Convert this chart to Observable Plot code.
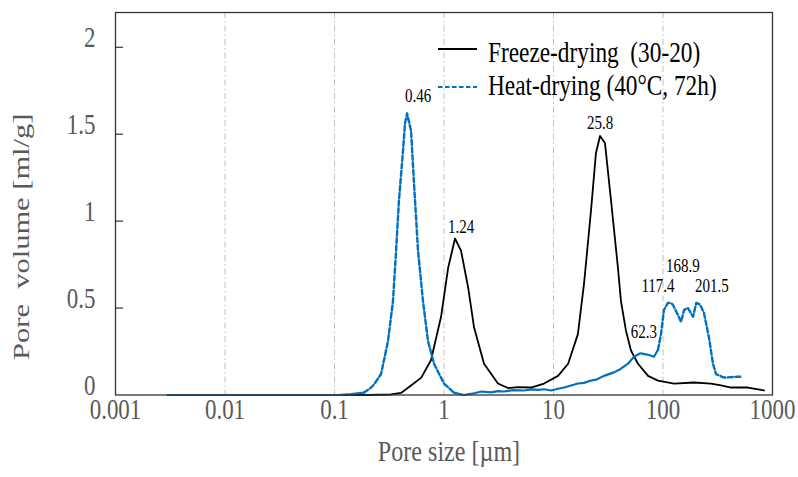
<!DOCTYPE html>
<html><head><meta charset="utf-8">
<script src="https://cdn.jsdelivr.net/npm/d3@7"></script>
<script src="https://cdn.jsdelivr.net/npm/@observablehq/plot@0.6"></script>
<style>
body{margin:0;background:#fff}
#chart{width:798px;height:477px}
svg text{white-space:pre}
</style>
</head><body><div id="chart"></div>
<script>
// ---- data ----
const freezeX = [0.003,0.1,0.2,0.328,0.405,0.5,0.62,0.76,0.94,1.09,1.26,1.43,1.66,1.88,2.32,3.11,3.84,4.74,6.23,8.19,11.0,13.6,16.7,19.0,22.0,24.4,26.6,29.5,33.5,38.8,41.3,45.9,51.0,59.1,73.0,90.0,126,192,274,339,418,598,836];
const freezeY = [0,0,0,0.003,0.012,0.055,0.10,0.20,0.45,0.73,0.90,0.83,0.62,0.39,0.18,0.066,0.04,0.045,0.043,0.066,0.11,0.18,0.35,0.64,1.06,1.39,1.49,1.45,1.12,0.73,0.54,0.37,0.256,0.18,0.11,0.083,0.066,0.072,0.066,0.055,0.043,0.043,0.026];
const heatX = [0.003,0.108,0.142,0.186,0.216,0.229,0.266,0.283,0.308,0.342,0.365,0.388,0.423,0.44,0.46,0.50,0.532,0.579,0.643,0.714,0.811,1.0,1.23,1.52,1.88,2.2,2.69,3.1,3.53,4.3,5.38,6.2,7.21,8.3,9.49,11,12.5,14.5,16.7,19,22.0,25,28.9,35.7,41,47.9,54.3,62.3,68,74.5,82.7,90.0,95.9,102,111,117.4,123,137,146,156,168.9,188,201.5,218,237,263,286,305,361,484,515];
const heatY = [0,0,0.005,0.014,0.043,0.06,0.12,0.2,0.31,0.54,0.83,1.12,1.41,1.56,1.62,1.52,1.22,0.83,0.54,0.31,0.18,0.066,0.014,0.0,0.01,0.02,0.015,0.022,0.02,0.028,0.026,0.032,0.03,0.033,0.026,0.036,0.043,0.055,0.066,0.07,0.083,0.09,0.11,0.13,0.15,0.18,0.22,0.24,0.235,0.23,0.22,0.26,0.35,0.49,0.53,0.53,0.52,0.46,0.42,0.49,0.50,0.45,0.53,0.52,0.47,0.33,0.18,0.12,0.10,0.105,0.105];
const seriesNames = ["Freeze-drying  (30-20)", "Heat-drying (40°C, 72h)"];
const xTicks = [0.001, 0.01, 0.1, 1, 10, 100, 1000];
const gridX = [0.01, 0.1, 1, 10, 100];
const yTicks = [0, 0.5, 1, 1.5, 2];
const peakText = ["0.46", "1.24", "25.8", "62.3", "117.4", "168.9", "201.5"];
const peakLabelX = [0.579, 1.43, 26.6, 67, 90, 152, 280];
const peakLabelY = [1.683, 0.929, 1.528, 0.325, 0.590, 0.705, 0.590];
const xTitle = "Pore size [µm]";
const yTitle = "Pore  volume [ml/g]";

// ---- build tables ----
const freeze = freezeX.map((x, i) => ({x, y: freezeY[i]}));
const heat = heatX.map((x, i) => ({x, y: heatY[i]}));
const isDashed = x => (x >= 0.18 && x <= 1.3) || x >= 90;
// split the heat-drying series into solid / dashed runs (shared end points)
const runs = [];
let cur = null;
heat.forEach((p, i) => {
  const d = i === 0 ? isDashed(p.x) : isDashed((heat[i - 1].x + p.x) / 2);
  if (!cur || cur.dashed !== d) {
    const prev = cur ? cur.pts[cur.pts.length - 1] : null;
    cur = {dashed: d, pts: prev ? [prev] : []};
    runs.push(cur);
  }
  cur.pts.push(p);
});
const heatSolid = [], heatDash = [];
runs.forEach((r, k) => r.pts.forEach(p => (r.dashed ? heatDash : heatSolid).push({...p, run: k})));
const peaks = peakText.map((t, i) => ({t, x: peakLabelX[i], y: peakLabelY[i]}));

const BLUE = "#0070c0";
const GRAY = "#595959";

const chart = Plot.plot({
  width: 798, height: 477,
  marginLeft: 115, marginRight: 26, marginTop: 12, marginBottom: 82.5,
  style: {fontFamily: "'Liberation Serif', 'Times New Roman', serif", fontSize: "29px", color: GRAY, background: "#fff"},
  x: {type: "log", domain: [0.001, 1000]},
  y: {domain: [0, 2.2]},
  marks: [
    Plot.ruleX(gridX, {x: d => d, stroke: "#bfbfbf", strokeWidth: 1, strokeDasharray: "6,3,1.5,3"}),
    Plot.line(freeze, {x: "x", y: "y", stroke: "#000", strokeWidth: 1.8}),
    Plot.line(heatSolid, {x: "x", y: "y", z: "run", stroke: BLUE, strokeWidth: 2.2}),
    Plot.line(heatDash, {x: "x", y: "y", z: "run", stroke: BLUE, strokeWidth: 2.4, strokeDasharray: "5,2.5"}),
    Plot.frame({stroke: "#333", strokeWidth: 1.3}),
    Plot.tickY(yTicks.slice(1), {y: d => d, stroke: "#333", strokeWidth: 1.2, insetRight: 649}),
    Plot.axisX(xTicks, {tickSize: 0, tickPadding: 24, tickFormat: d => String(d), label: null, fontSize: 29}),
    Plot.axisY(yTicks, {tickSize: 0, tickPadding: 20, tickFormat: d => String(d), label: null, fontSize: 29}),
    Plot.text(peaks, {x: "x", y: "y", text: "t", lineAnchor: "bottom", textAnchor: "middle", fill: "#000", fontSize: 19}),
    Plot.text([xTitle], {text: d => d, frameAnchor: "bottom", dy: 66, dx: 5, textAnchor: "middle", lineAnchor: "middle", fontSize: 30.5, fill: GRAY}),
    Plot.text([yTitle], {text: d => d, frameAnchor: "left", rotate: -90, dx: -87, dy: 33, textAnchor: "middle", lineAnchor: "middle", fontSize: 30.5, fill: GRAY})
  ]
});

// ---- legend (inside the plot frame, top right) ----
const svg = d3.select(chart);
const leg = svg.append("g").attr("text-anchor", "start");
const rows = [
  {name: seriesNames[0], stroke: "#000", dash: null, w: 1.8, ly: 49, ty: 53},
  {name: seriesNames[1], stroke: BLUE, dash: "4.5,2.5", w: 2.2, ly: 87, ty: 86}
];
rows.forEach(r => {
  leg.append("line").attr("x1", 438).attr("x2", 477).attr("y1", r.ly).attr("y2", r.ly)
    .attr("stroke", r.stroke).attr("stroke-width", r.w).attr("stroke-dasharray", r.dash);
  leg.append("text").attr("x", 488).attr("y", r.ty).attr("dy", "0.32em").attr("text-anchor", "start")
    .attr("fill", "#000").attr("font-size", 29.5).text(r.name);
});

// the reference's lettering is horizontally condensed: compress all text in screen-x
const S = 0.79;
svg.selectAll("text").each(function () {
  const t = d3.select(this);
  const tr = t.attr("transform") || "";
  const x = +t.attr("x") || 0, y = +t.attr("y") || 0;
  t.attr("x", null).attr("y", null);
  const rot = /rotate/.test(tr);
  t.attr("transform", `${tr} translate(${x},${y}) ${rot ? `scale(1,${S})` : `scale(${S},1)`}`);
});

document.getElementById("chart").appendChild(chart);
</script>
</body></html>
